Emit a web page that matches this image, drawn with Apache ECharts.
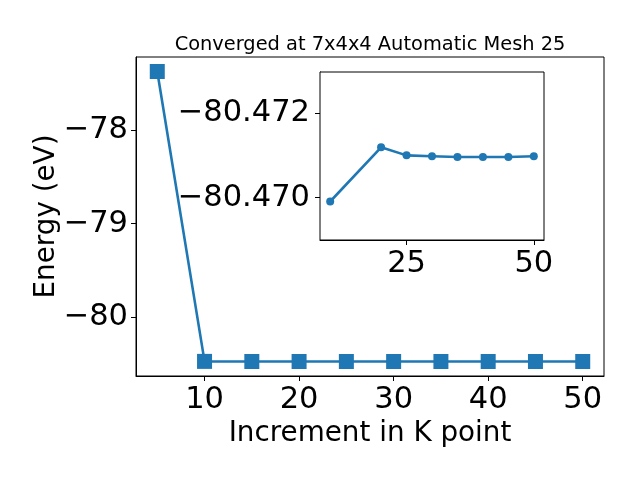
<!DOCTYPE html>
<html>
<head>
<meta charset="utf-8">
<script src="https://cdn.jsdelivr.net/npm/echarts@6/dist/echarts.min.js"></script>
<style>html,body{margin:0;padding:0;background:#fff}#c{width:640px;height:480px}</style>
</head>
<body>
<div id="c"></div>
<script>
const kPoints = [5, 10, 15, 20, 25, 30, 35, 40, 45, 50];
const energies = [-77.375, -80.4699, -80.4710, -80.4712, -80.4710, -80.47098, -80.47096, -80.47096, -80.47096, -80.47098];
const insetK = [10, 20, 25, 30, 35, 40, 45, 50];
const insetE = [-80.46991, -80.47119, -80.47100, -80.47098, -80.47096, -80.47096, -80.47096, -80.47098];
const mainXTicks = [10, 20, 30, 40, 50];
const mainYTicks = [-80, -79, -78];
const insetXTicks = [25, 50];
const insetYTicks = [-80.472, -80.470];
const titleText = 'Converged at 7x4x4 Automatic Mesh 25';
const xLabel = 'Increment in K point';
const yLabel = 'Energy (eV)';

const color = '#1f77b4';
const font = 'DejaVu Sans';
const fmt = (d) => (v) => (v < 0 ? '\u2212' : '') + Math.abs(v).toFixed(d);

const chart = echarts.init(document.getElementById('c'), null, {renderer: 'canvas'});
chart.setOption({
  animation: false,
  backgroundColor: '#fff',
  title: {
    text: titleText, left: 365, textAlign: 'center', top: 30,
    textStyle: {fontFamily: font, fontSize: 19.4, fontWeight: 'normal', color: '#000'}
  },
  grid: [
    {left: 136, top: 57, width: 468, height: 319, show: true, borderColor: '#000', borderWidth: 1, backgroundColor: 'transparent'},
    {left: 320, top: 72, width: 224, height: 168, show: true, borderColor: '#000', borderWidth: 1, backgroundColor: '#fff', z: 10}
  ],
  xAxis: [
    {
      gridIndex: 0, type: 'value', min: 2.75, max: 52.25,
      name: xLabel, nameLocation: 'middle', nameGap: 44, nameMoveOverlap: false,
      nameTextStyle: {fontFamily: font, fontSize: 27.8, color: '#000'},
      axisLine: {show: true, onZero: false, lineStyle: {color: '#000', width: 1}},
      axisTick: {show: true, length: 5, lineStyle: {color: '#000'}, customValues: mainXTicks},
      axisLabel: {fontFamily: font, fontSize: 30.5, color: '#000', margin: 9, customValues: mainXTicks, formatter: fmt(0)},
      splitLine: {show: false}
    },
    {
      gridIndex: 1, type: 'value', min: 8, max: 52,
      axisLine: {show: true, onZero: false, lineStyle: {color: '#000', width: 1}},
      axisTick: {show: true, length: 5, lineStyle: {color: '#000'}, customValues: insetXTicks},
      axisLabel: {fontFamily: font, fontSize: 30.5, color: '#000', margin: 9, customValues: insetXTicks, formatter: fmt(0)},
      splitLine: {show: false}
    }
  ],
  yAxis: [
    {
      gridIndex: 0, type: 'value', min: -80.626, max: -77.22,
      name: yLabel, nameLocation: 'middle', nameGap: 75, nameRotate: 90, nameMoveOverlap: false,
      nameTextStyle: {fontFamily: font, fontSize: 27.8, color: '#000'},
      axisLine: {show: true, onZero: false, lineStyle: {color: '#000', width: 1}},
      axisTick: {show: true, length: 5, lineStyle: {color: '#000'}, customValues: mainYTicks},
      axisLabel: {fontFamily: font, fontSize: 30.5, color: '#000', margin: 8, customValues: mainYTicks, formatter: fmt(0)},
      splitLine: {show: false}
    },
    {
      gridIndex: 1, type: 'value', inverse: true, min: -80.47297, max: -80.4690,
      axisLine: {show: true, onZero: false, lineStyle: {color: '#000', width: 1}},
      axisTick: {show: true, length: 5, lineStyle: {color: '#000'}, customValues: insetYTicks},
      axisLabel: {fontFamily: font, fontSize: 30.5, color: '#000', margin: 10, customValues: insetYTicks, formatter: fmt(3)},
      splitLine: {show: false}
    }
  ],
  series: [
    {
      type: 'line', xAxisIndex: 0, yAxisIndex: 0,
      data: kPoints.map((k, i) => [k, energies[i]]),
      symbol: 'rect', symbolSize: 15, showAllSymbol: true,
      lineStyle: {color: color, width: 2.6}, itemStyle: {color: color}
    },
    {
      type: 'line', xAxisIndex: 1, yAxisIndex: 1, z: 12,
      data: insetK.map((k, i) => [k, insetE[i]]),
      symbol: 'circle', symbolSize: 8, showAllSymbol: true,
      lineStyle: {color: color, width: 2.6}, itemStyle: {color: color}
    }
  ]
});
</script>
</body>
</html>
